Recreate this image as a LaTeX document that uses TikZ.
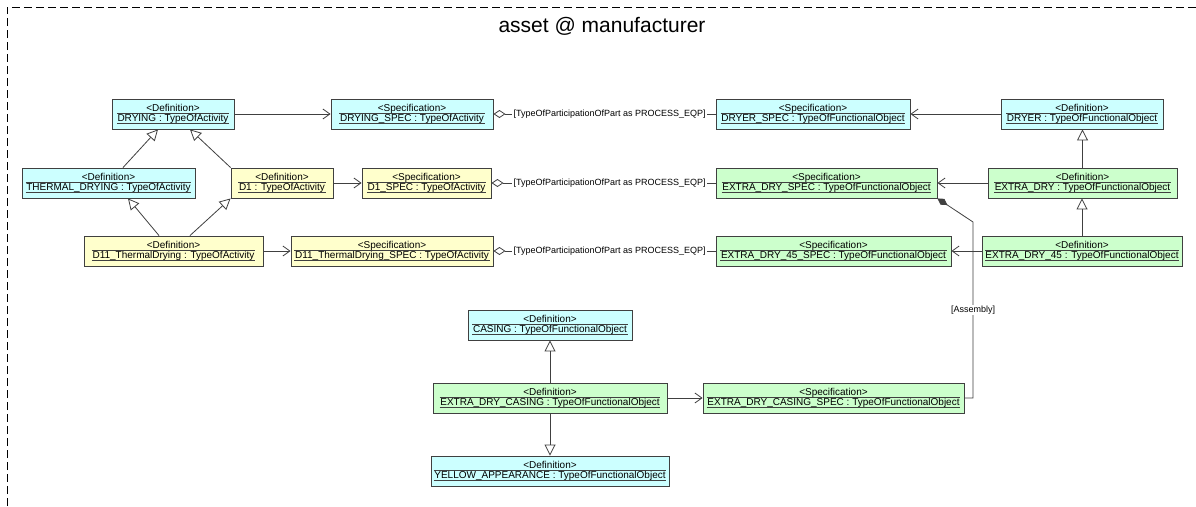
\documentclass[tikz,border=0pt]{standalone}
\usepackage{fontspec}
\setmainfont{Liberation Sans}
\usetikzlibrary{arrows.meta,calc,fit}

\definecolor{defcyan}{RGB}{204,255,255}
\definecolor{defyellow}{RGB}{255,255,204}
\definecolor{defgreen}{RGB}{204,255,204}
\definecolor{edgegray}{RGB}{64,64,64}

\tikzset{
  classframe/.style={draw=edgegray, line width=0.9pt, inner sep=0pt},
  stereo/.style={anchor=base, inner sep=0pt, font=\fontsize{10}{12}\selectfont},
  classname/.style={anchor=base, inner xsep=0.5pt, inner ysep=0pt,
    text height=7.8pt, text depth=1.5pt, font=\fontsize{10}{12}\selectfont},
  nameline/.style={draw=edgegray, line width=0.6pt},
  conn/.style={draw=edgegray, line width=0.8pt},
  dep/.style={conn, -{Straight Barb[length=7pt,width=10pt]}},
  gen/.style={conn, -{Triangle[open,length=11pt,width=11pt]}},
  agg/.style={conn, {Diamond[open,length=12pt,width=8pt]}-},
  comp/.style={conn, -{Diamond[length=12pt,width=7pt]}},
  rolelabel/.style={fill=white, inner xsep=1.5pt, inner ysep=1pt,
    font=\fontsize{9}{11}\selectfont},
  pkgframe/.style={line width=1pt, dash pattern=on 8pt off 4pt},
}

% #1 name, #2 x1, #3 y1, #4 x2, #5 y2, #6 fill, #7 stereotype, #8 instance label
\newcommand{\classbox}[8]{%
  \node[classframe, fill=#6, fit={(#2,#3) (#4,#5)}] (#1) {};
  \node[stereo] (#1-st) at ($(#1.north)+(0,12.5)$) {<#7>};
  \node[classname] (#1-nm) at ($(#1.north)+(0,23)$) {#8};
  \draw[nameline] (#1-nm.north west) -- (#1-nm.north east)
                  (#1-nm.south west) -- (#1-nm.south east);
}

\begin{document}
\begin{tikzpicture}[x=1pt, y=-1pt]
\useasboundingbox (0,0) rectangle (1196,506);
\fill[white] (0,0) rectangle (1196,506);

% package frame and title
\draw[pkgframe] (7,506) -- (7,7) -- (1196,7);
\node[anchor=base, inner sep=0pt, font=\fontsize{21}{24}\selectfont] (title) at (602,32) {asset @ manufacturer};

% class boxes
\classbox{drying}{112}{99}{234}{129}{defcyan}{Definition}{DRYING : TypeOfActivity}
\classbox{dryingspec}{331}{99}{493}{129}{defcyan}{Specification}{DRYING\_SPEC : TypeOfActivity}
\classbox{dryerspec}{716}{99}{910}{129}{defcyan}{Specification}{DRYER\_SPEC : TypeOfFunctionalObject}
\classbox{dryer}{1001}{99}{1163}{129}{defcyan}{Definition}{DRYER : TypeOfFunctionalObject}
\classbox{thermal}{22}{168}{195}{198}{defcyan}{Definition}{THERMAL\_DRYING : TypeOfActivity}
\classbox{d1}{231}{168}{333}{198}{defyellow}{Definition}{D1 : TypeOfActivity}
\classbox{d1spec}{362}{168}{491}{198}{defyellow}{Specification}{D1\_SPEC : TypeOfActivity}
\classbox{extradryspec}{716}{168}{937}{198}{defgreen}{Specification}{EXTRA\_DRY\_SPEC : TypeOfFunctionalObject}
\classbox{extradry}{988}{168}{1177}{198}{defgreen}{Definition}{EXTRA\_DRY : TypeOfFunctionalObject}
\classbox{d11}{84}{236}{263}{266}{defyellow}{Definition}{D11\_ThermalDrying : TypeOfActivity}
\classbox{d11spec}{291}{236}{493}{266}{defyellow}{Specification}{D11\_ThermalDrying\_SPEC : TypeOfActivity}
\classbox{ed45spec}{716}{236}{951}{266}{defgreen}{Specification}{EXTRA\_DRY\_45\_SPEC : TypeOfFunctionalObject}
\classbox{ed45}{982}{236}{1182}{266}{defgreen}{Definition}{EXTRA\_DRY\_45 : TypeOfFunctionalObject}
\classbox{casing}{468}{310}{632}{340}{defcyan}{Definition}{CASING : TypeOfFunctionalObject}
\classbox{edcasing}{433}{383}{667}{413}{defgreen}{Definition}{EXTRA\_DRY\_CASING : TypeOfFunctionalObject}
\classbox{edcasingspec}{703}{383}{964}{413}{defgreen}{Specification}{EXTRA\_DRY\_CASING\_SPEC : TypeOfFunctionalObject}
\classbox{yellowapp}{431}{456}{669}{486}{defcyan}{Definition}{YELLOW\_APPEARANCE : TypeOfFunctionalObject}

% generalisations
\draw[gen] ([xshift=14.5pt]thermal.north) -- ([xshift=-15pt]drying.south);
\draw[gen] (d1.north west) -- ([xshift=17pt]drying.south);
\draw[gen] ([xshift=-14.5pt]d11.north) -- ([xshift=19.5pt]thermal.south);
\draw[gen] ([xshift=16.5pt]d11.north) -- (d1.south west);
\draw[gen] (extradry.north) -- (extradry.north |- dryer.south);
\draw[gen] (ed45.north) -- (ed45.north |- extradry.south);
\draw[gen] (edcasing.north) -- (edcasing.north |- casing.south);
\draw[gen] (edcasing.south) -- (edcasing.south |- yellowapp.north);

% definition -> specification
\draw[dep] (drying) -- (dryingspec);
\draw[dep] (dryer) -- (dryerspec);
\draw[dep] (d1) -- (d1spec);
\draw[dep] (extradry) -- (extradryspec);
\draw[dep] (d11) -- (d11spec);
\draw[dep] (ed45) -- (ed45spec);
\draw[dep] (edcasing) -- (edcasingspec);

% participation aggregations
\draw[agg] (dryingspec.east) -- (dryerspec.west);
\node[rolelabel] (role1) at ($(dryerspec.west)+(-106,0)$) {[TypeOfParticipationOfPart as PROCESS\_EQP]};
\draw[agg] (d1spec.east) -- (extradryspec.west);
\node[rolelabel] (role2) at ($(extradryspec.west)+(-106,0)$) {[TypeOfParticipationOfPart as PROCESS\_EQP]};
\draw[agg] (d11spec.east) -- (ed45spec.west);
\node[rolelabel] (role3) at ($(ed45spec.west)+(-106,0)$) {[TypeOfParticipationOfPart as PROCESS\_EQP]};

% assembly composition
\coordinate (asmtop) at (973,222);
\coordinate (asmbot) at (edcasingspec.east -| asmtop);
\draw[comp] (edcasingspec.east) -- (asmbot) -- (asmtop) -- (extradryspec.south east);
\node[rolelabel] (asmlabel) at (973,310) {[Assembly]};
\end{tikzpicture}
\end{document}
